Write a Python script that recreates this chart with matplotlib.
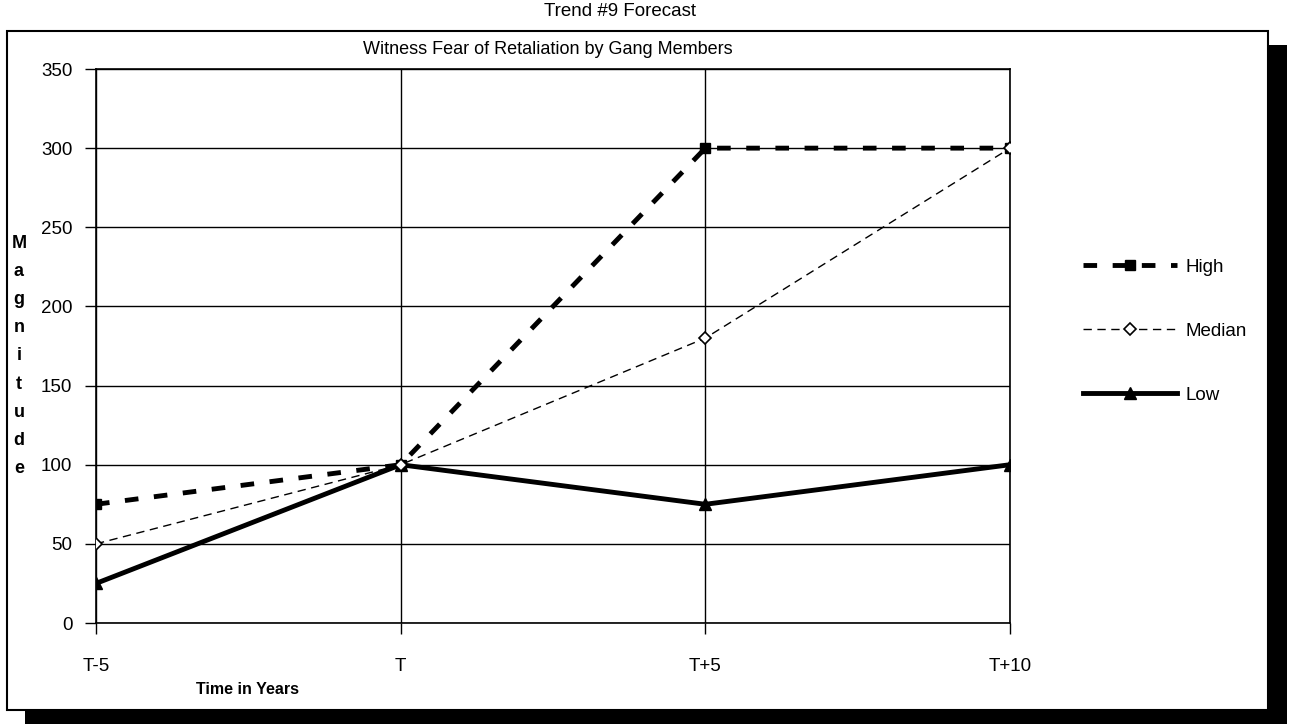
import numpy as np
import matplotlib.pyplot as plt
from matplotlib.patches import Rectangle

# data
periods = ['T-5', 'T', 'T+5', 'T+10']
high = [75, 100, 300, 300]
median = [50, 100, 180, 300]
low = [25, 100, 75, 100]

plt.rcParams['font.family'] = ['Liberation Sans', 'DejaVu Sans']

fig = plt.figure(figsize=(12.9, 7.24), dpi=100)
fig.patch.set_facecolor('white')

# drop shadow + chart frame
fig.patches.append(Rectangle((25/1290, 0), 1262/1290, 1 - 45/724,
                             transform=fig.transFigure, facecolor='black',
                             edgecolor='none', zorder=0))
fig.patches.append(Rectangle((7/1290, 1 - 710/724), 1261/1290, 679/724,
                             transform=fig.transFigure, facecolor='white',
                             edgecolor='black', lw=1.5, zorder=1))

ax = fig.add_axes([96/1290, 1 - 623/724, 914/1290, 554/724])
ax.set_zorder(3)
ax.set_facecolor('none')
x = np.arange(len(periods))

ax.plot(x, high, color='black', lw=3.5, ls=(0, (2.8, 3.2)), marker='s',
        markersize=7, label='High', zorder=4)
ax.plot(x, median, color='black', lw=1, ls=(0, (6, 4)), marker='D',
        markersize=6, markerfacecolor='white', markeredgewidth=1.2,
        label='Median', zorder=5)
ax.plot(x, low, color='black', lw=3.5, ls='-', marker='^',
        markersize=9, label='Low', zorder=3)

ax.set_xlim(0, 3)
ax.set_ylim(0, 350)
ax.set_yticks(np.arange(0, 351, 50))
ax.set_xticks(x)
ax.set_xticklabels(periods)
ax.grid(True, color='black', lw=1)
for s in ax.spines.values():
    s.set_color('black')
    s.set_linewidth(1.2)
ax.tick_params(axis='both', direction='out', length=8, width=1,
               labelsize=13.5, color='black')
ax.tick_params(axis='y', pad=9)
ax.tick_params(axis='x', pad=17)

fig.text(620/1290, 1 - 12/724, 'Trend #9 Forecast', ha='center',
         va='center', fontsize=13.5)
fig.text(548/1290, 1 - 50/724, 'Witness Fear of Retaliation by Gang Members',
         ha='center', va='center', fontsize=13)
fig.text(247/1290, 1 - 690/724, 'Time in Years', ha='center', va='center',
         fontsize=11.5, fontweight='bold')
fig.text(19/1290, 1 - 356/724, '\n'.join('Magnitude'), ha='center',
         va='center', fontsize=13, fontweight='bold', linespacing=1.85)

fig.legend(loc='center left', bbox_to_anchor=(1074/1290, 1 - 331/724),
           frameon=False, fontsize=13.5, handlelength=5.0, labelspacing=2.5,
           handletextpad=0.45, borderpad=0)

fig.savefig('out.png', dpi=100)
